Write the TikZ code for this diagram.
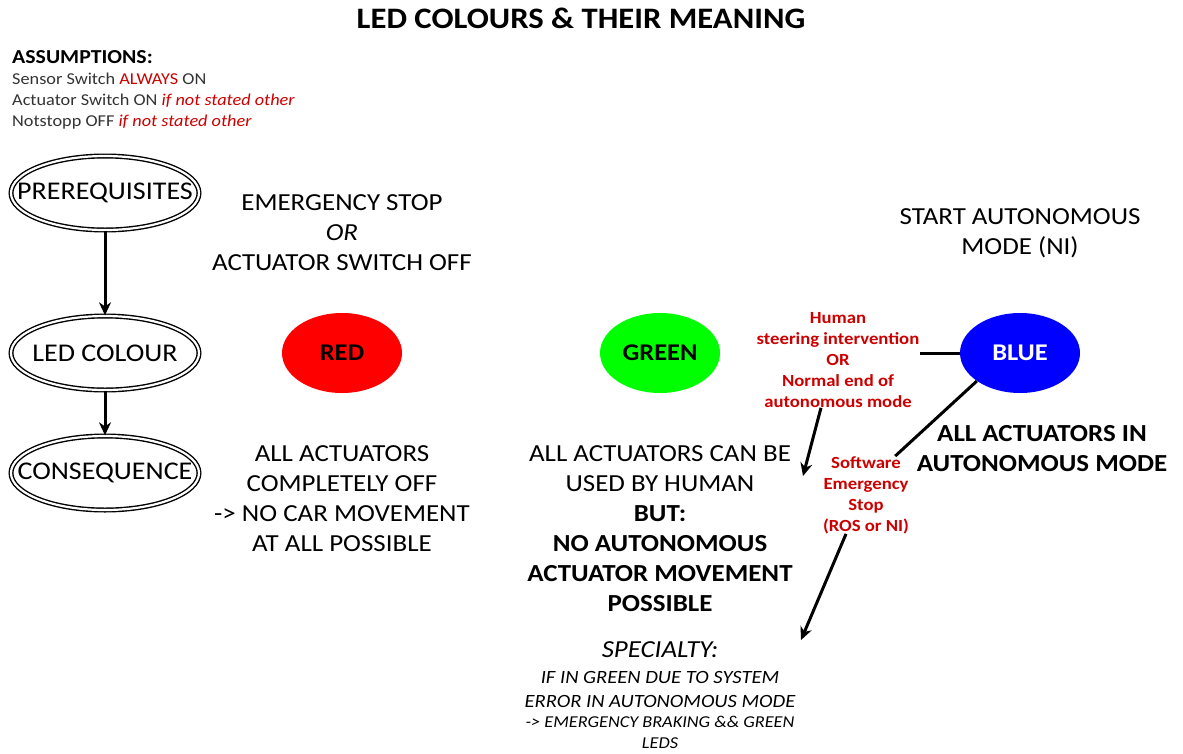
\documentclass[tikz,border=0pt]{standalone}
\usepackage{fontspec}
\setmainfont{Carlito}[FakeStretch=1.1]
\usetikzlibrary{arrows.meta,positioning,shapes.geometric}
\definecolor{ledred}{RGB}{255,0,0}
\definecolor{ledgreen}{RGB}{0,255,0}
\definecolor{ledblue}{RGB}{0,0,255}
\definecolor{notered}{RGB}{204,0,0}
\definecolor{asmgray}{RGB}{51,51,51}
\newcommand{\nowidth}[1]{\makebox[0pt]{#1}}

\begin{document}
\begin{tikzpicture}[x=1pt, y=-1pt, >={Stealth[length=13pt,width=12pt]}, every node/.style={inner sep=0pt},
  stage/.style={draw, ellipse, double, double distance=2.2pt, line width=1.4pt, minimum width=188pt, minimum height=74pt, font=\fontsize{25.5}{30}\selectfont},
  led/.style={ellipse, minimum width=120pt, minimum height=80pt, font=\fontsize{24}{28}\selectfont\bfseries},
  body/.style={align=center, font=\fontsize{24.5}{30}\selectfont},
  note/.style={align=center, text=notered, font=\fontsize{17}{21}\selectfont\bfseries},
  link/.style={line width=3pt}]
  \useasboundingbox (0,0) rectangle (1183,753);
  \node[font=\fontsize{29.7}{32}\selectfont\bfseries] (title) at (581,18) {LED COLOURS \& THEIR MEANING};
  \node[anchor=west,align=left,text=asmgray,font=\fontsize{16.6}{21}\selectfont] (assume) at (12,90)
    {\textcolor{black}{\fontsize{19.8}{21}\selectfont\textbf{ASSUMPTIONS:}}\\
     Sensor Switch \textcolor{notered}{ALWAYS} ON\\
     Actuator Switch ON \textcolor{notered}{\itshape if not stated other}\\
     Notstopp OFF \textcolor{notered}{\itshape if not stated other}};
  % left column
  \node[stage] (prereq) at (105,193) {\nowidth{PREREQUISITES}};
  \node[stage] (colour) at (105,353) {\nowidth{LED COLOUR}};
  \node[stage] (conseq) at (105,473) {\nowidth{CONSEQUENCE}};
  \draw[->,link] (prereq)--(colour); \draw[->,link] (colour)--(conseq);
  % red
  \node[body] (redpre) at (342,233) {EMERGENCY STOP\\\textit{OR}\\ACTUATOR SWITCH OFF};
  \node[led,fill=ledred] (red) at (342,353) {RED};
  \node[body] (redcon) at (342,499) {ALL ACTUATORS\\COMPLETELY OFF\\-> NO CAR MOVEMENT\\AT ALL POSSIBLE};
  % green
  \node[led,fill=ledgreen] (green) at (660,353) {GREEN};
  \node[body] (greencon) at (660,529) {ALL ACTUATORS CAN BE\\USED BY HUMAN\\\textbf{BUT:}\\\textbf{NO AUTONOMOUS}\\\textbf{ACTUATOR MOVEMENT}\\\textbf{POSSIBLE}};
  \node[body,font=\fontsize{24.5}{30}\selectfont\itshape] (spec) at (660,650) {SPECIALTY:};
  \node[align=center,font=\fontsize{18.7}{24}\selectfont\itshape] (spec1) at (660,689) {IF IN GREEN DUE TO SYSTEM\\ERROR IN AUTONOMOUS MODE};
  \node[align=center,font=\fontsize{16.6}{21}\selectfont\itshape] (spec2) at (660,732) {-> EMERGENCY BRAKING \&\& GREEN\\LEDS};
  % blue
  \node[body] (bluepre) at (1020,233) {START AUTONOMOUS\\MODE (NI)};
  \node[led,fill=ledblue,text=white] (blue) at (1020,353) {BLUE};
  \node[body,font=\fontsize{24.5}{30}\selectfont\bfseries] (bluecon) at (1042,449) {ALL ACTUATORS IN\\AUTONOMOUS MODE};
  % transitions
  \node[note] (human) at (838,360) {Human\\steering intervention\\OR\\Normal end of\\autonomous mode};
  \node[note] (soft) at (866,495) {Software\\Emergency\\Stop\\(ROS or NI)};
  \coordinate (humanend) at (803,476);
  \coordinate (softend) at (801,640);
  \draw[link] (blue.west)--(blue.west -| human.east);
  \draw[->,link] ([xshift=-17pt]human.south)--(humanend);
  \draw[link] (blue.213)--([xshift=-14pt]soft.north east);
  \draw[->,link] ([xshift=-20pt]soft.south)--(softend);
\end{tikzpicture}
\end{document}
